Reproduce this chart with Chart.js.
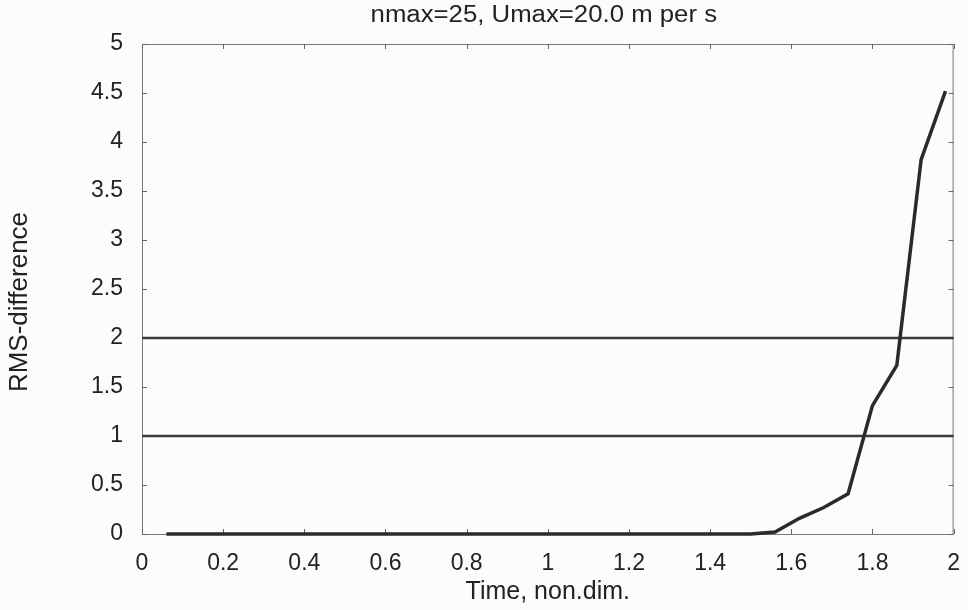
<!DOCTYPE html>
<html>
<head>
<meta charset="utf-8">
<script src="https://cdn.jsdelivr.net/npm/chart.js@4"></script>
<style>
  html, body { margin: 0; padding: 0; background: #fcfcfc; }
  #wrap { width: 968px; height: 610px; }
</style>
</head>
<body>
<div id="wrap"><canvas id="rmsChart" width="968" height="610"></canvas></div>
<script>
// time axis samples (non-dimensional) and RMS difference at each one
const timeSteps = [0.06, 0.12, 0.18, 0.24, 0.30, 0.36, 0.42, 0.48, 0.54, 0.60,
  0.66, 0.72, 0.78, 0.84, 0.90, 0.96, 1.02, 1.08, 1.14, 1.20, 1.26, 1.32,
  1.38, 1.44, 1.50, 1.56, 1.62, 1.68, 1.74, 1.80, 1.86, 1.92, 1.98];
const rmsDiff = [0, 0, 0, 0, 0, 0, 0, 0, 0, 0,
  0, 0, 0, 0, 0, 0, 0, 0, 0, 0, 0, 0,
  0, 0, 0, 0.02, 0.16, 0.27, 0.41, 1.31, 1.72, 3.82, 4.52];

// horizontal reference levels drawn across the whole time range
const limitLevels = [1, 2];
const limitSpan = [0, 2];

const xTickValues = [0, 0.2, 0.4, 0.6, 0.8, 1, 1.2, 1.4, 1.6, 1.8, 2];
const yTickValues = [0, 0.5, 1, 1.5, 2, 2.5, 3, 3.5, 4, 4.5, 5];

const titleText = "nmax=25, Umax=20.0 m per s";
const xTitle = "Time, non.dim.";
const yTitle = "RMS-difference";

const FONT = "'Liberation Sans', Arial, sans-serif";
const INK = "#222";

const curve = timeSteps.map((t, i) => ({ x: t, y: rmsDiff[i] }));

const limitSets = limitLevels.map((lvl) => ({
  data: limitSpan.map((t) => ({ x: t, y: lvl })),
  borderColor: "#3a3a3a",
  borderWidth: 2.5,
  pointRadius: 0,
  clip: 6,
}));

// frame, inward tick marks and the text that sits outside the axes
const framePlugin = {
  id: "frame",
  beforeDatasetsDraw(chart) {
    const { ctx, chartArea: a, scales } = chart;
    ctx.save();
    ctx.strokeStyle = "#777";
    ctx.lineWidth = 1;
    ctx.strokeRect(a.left + 0.5, a.top + 0.5, a.right - a.left - 1, a.bottom - a.top);
    ctx.strokeStyle = "#666";
    ctx.beginPath();
    scales.x.ticks.forEach((t) => {
      const px = Math.round(scales.x.getPixelForValue(t.value)) + 0.5;
      ctx.moveTo(px, a.bottom);
      ctx.lineTo(px, a.bottom - 5);
      ctx.moveTo(px, a.top);
      ctx.lineTo(px, a.top + 5);
    });
    scales.y.ticks.forEach((t) => {
      const py = Math.round(scales.y.getPixelForValue(t.value)) + 0.5;
      ctx.moveTo(a.left, py);
      ctx.lineTo(a.left + 5, py);
      ctx.moveTo(a.right, py);
      ctx.lineTo(a.right - 5, py);
    });
    ctx.stroke();
    ctx.restore();
  },
  afterDraw(chart) {
    const { ctx, chartArea: a } = chart;
    ctx.save();
    ctx.fillStyle = INK;
    ctx.textAlign = "center";
    ctx.textBaseline = "middle";
    // title is set a little wide
    ctx.save();
    ctx.translate((a.left + a.right) / 2 - 4, 16);
    ctx.scale(1.12, 1);
    ctx.font = "23px " + FONT;
    ctx.fillText(titleText, 0, 0);
    ctx.restore();
    ctx.translate(20, (a.top + a.bottom) / 2 + 13);
    ctx.rotate(-Math.PI / 2);
    ctx.font = "26px " + FONT;
    ctx.fillText(yTitle, 0, 0);
    ctx.restore();
  },
};

new Chart(document.getElementById("rmsChart"), {
  type: "line",
  data: {
    datasets: [
      {
        data: curve,
        borderColor: "#2a2a2a",
        borderWidth: 3.5,
        pointRadius: 0,
        tension: 0,
        clip: 6,
      },
      ...limitSets,
    ],
  },
  options: {
    responsive: false,
    animation: false,
    events: [],
    layout: { padding: { top: 44, right: 5, left: 0, bottom: 0 } },
    plugins: { legend: { display: false }, tooltip: { enabled: false } },
    scales: {
      x: {
        type: "linear",
        min: 0,
        max: 2,
        afterBuildTicks: (s) => { s.ticks = xTickValues.map((v) => ({ value: v })); },
        afterFit: (s) => { s.height = 76; },
        grid: { display: false },
        border: { display: false },
        ticks: {
          color: INK,
          padding: 8,
          maxRotation: 0,
          autoSkip: false,
          font: { family: FONT, size: 23 },
          callback: (v) => String(v),
        },
        title: {
          display: true,
          text: xTitle,
          color: INK,
          font: { family: FONT, size: 25 },
          padding: { top: 0, bottom: 3 },
        },
      },
      y: {
        type: "linear",
        min: 0,
        max: 5,
        afterBuildTicks: (s) => { s.ticks = yTickValues.map((v) => ({ value: v })); },
        afterFit: (s) => { s.width = 142; },
        grid: { display: false },
        border: { display: false },
        ticks: {
          color: INK,
          padding: 11,
          autoSkip: false,
          font: { family: FONT, size: 23 },
          callback: (v) => String(v),
        },
      },
    },
  },
  plugins: [framePlugin],
});
</script>
</body>
</html>
